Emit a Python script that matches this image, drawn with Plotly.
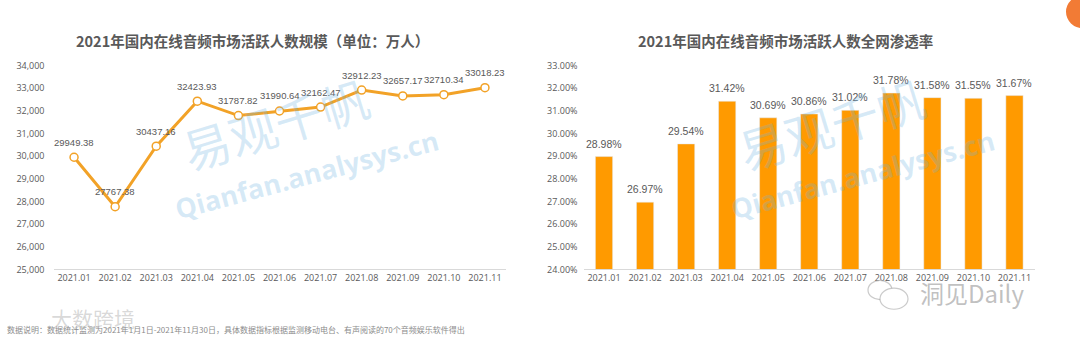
import plotly.graph_objects as go

months = ["2021.01", "2021.02", "2021.03", "2021.04", "2021.05", "2021.06",
          "2021.07", "2021.08", "2021.09", "2021.10", "2021.11"]
active_users = [29949.38, 27767.38, 30437.16, 32423.93, 31787.82, 31990.64,
                32162.47, 32912.23, 32657.17, 32710.34, 33018.23]
penetration = [28.98, 26.97, 29.54, 31.42, 30.69, 30.86,
               31.02, 31.78, 31.58, 31.55, 31.67]

title_left = "2021年国内在线音频市场活跃人数规模（单位：万人）"
title_right = "2021年国内在线音频市场活跃人数全网渗透率"
footnote = "数据说明：数据统计监测为2021年1月1日-2021年11月30日，具体数据指标根据监测移动电台、有声阅读的70个音频娱乐软件得出"

W, H = 1080, 347
LINE_C = "#F2A227"
BAR_C = "#FF9A00"
TXT = "#595959"
NUM_FONT = "Open Sans, Noto Sans CJK SC, sans-serif"
LBL_FONT = "Liberation Sans, Arial, sans-serif"
CJK_FONT = "Noto Sans CJK SC, sans-serif"

ydom = [1 - 272.7 / H, 1 - 60.7 / H]

fig = go.Figure()

fig.add_trace(go.Scatter(
    x=months, y=active_users, mode="lines+markers",
    line=dict(color=LINE_C, width=3),
    marker=dict(size=8, color="white", line=dict(color=LINE_C, width=1.5)),
    xaxis="x", yaxis="y", showlegend=False, hoverinfo="x+y"))

fig.add_trace(go.Bar(
    x=months, y=penetration, marker_color=BAR_C, width=0.42,
    xaxis="x2", yaxis="y2", showlegend=False))

annotations = []
# category positions given by index so numeric-looking labels are not parsed as numbers
for i, v in enumerate(active_users):
    annotations.append(dict(x=i, y=v, xref="x", yref="y", text=f"{v:.2f}",
                            xanchor="center", showarrow=False, yshift=15,
                            font=dict(size=9.5, color=TXT, family=LBL_FONT)))
for i, v in enumerate(penetration):
    annotations.append(dict(x=i, y=v, xref="x2", yref="y2", text=f"{v:.2f}%",
                            xanchor="center", showarrow=False, yshift=13,
                            font=dict(size=10.5, color=TXT, family=LBL_FONT)))

# titles
annotations.append(dict(x=252 / W, y=1 - 35 / H, xref="paper", yref="paper",
                        xanchor="center", yanchor="middle",
                        text=f"<b>{title_left}</b>", showarrow=False,
                        font=dict(size=14.5, color=TXT, family=CJK_FONT)))
annotations.append(dict(x=785 / W, y=1 - 35 / H, xref="paper", yref="paper",
                        xanchor="center", yanchor="middle",
                        text=f"<b>{title_right}</b>", showarrow=False,
                        font=dict(size=14.5, color=TXT, family=CJK_FONT)))
# footnote
annotations.append(dict(x=5 / W, y=1 - 335 / H, xref="paper", yref="paper",
                        xanchor="left", yanchor="middle", text=footnote, showarrow=False,
                        font=dict(size=8, color="#8C8C8C", family=CJK_FONT)))

# watermarks
WM = "rgba(110,180,225,0.28)"
for dx in (0, 556):
    annotations.append(dict(x=(275 + dx) / W, y=1 - 120 / H, xref="paper", yref="paper",
                            xanchor="center", yanchor="middle",
                            text="易观千帆", showarrow=False, textangle=-17,
                            font=dict(size=48, color=WM, family=CJK_FONT)))
    annotations.append(dict(x=(306 + dx) / W, y=1 - 174 / H, xref="paper", yref="paper",
                            xanchor="center", yanchor="middle",
                            text="<b>Qianfan.analysys.cn</b>", showarrow=False, textangle=-15,
                            font=dict(size=27, color=WM, family="Open Sans, sans-serif")))
annotations.append(dict(x=93 / W, y=1 - 323 / H, xref="paper", yref="paper",
                        xanchor="center", yanchor="middle",
                        text="大数跨境", showarrow=False,
                        font=dict(size=21, color="rgba(170,170,170,0.45)", family=CJK_FONT)))
annotations.append(dict(x=972 / W, y=1 - 297 / H, xref="paper", yref="paper",
                        xanchor="center", yanchor="middle",
                        text="洞见Daily", showarrow=False,
                        font=dict(size=24, color="rgba(140,140,140,0.55)", family=CJK_FONT)))

axis_common = dict(showgrid=False, zeroline=False, ticks="",
                   tickfont=dict(size=9, color=TXT, family=NUM_FONT))

wm_line = dict(color="rgba(150,150,150,0.5)", width=1.2)
fig.update_layout(
    width=W, height=H, margin=dict(l=0, r=0, t=0, b=0),
    paper_bgcolor="white", plot_bgcolor="white",
    xaxis=dict(domain=[53.5 / W, 505.5 / W], anchor="y", type="category",
               range=[-0.5, 10.5],
               showline=True, linecolor="#D9D9D9", linewidth=1, **axis_common),
    yaxis=dict(domain=ydom, anchor="x", range=[25000, 34000], dtick=1000,
               tickformat=",d", showline=False, ticklabelstandoff=8, **axis_common),
    xaxis2=dict(domain=[583.5 / W, 1035 / W], anchor="y2", type="category",
                range=[-0.5, 10.5],
                showline=True, linecolor="#D9D9D9", linewidth=1, **axis_common),
    yaxis2=dict(domain=ydom, anchor="x2", range=[24, 33], dtick=1,
                tickformat=".2f", ticksuffix="%", showline=False, ticklabelstandoff=5,
                **axis_common),
    annotations=annotations,
    shapes=[
        dict(type="circle", xref="paper", yref="paper",
             x0=1066 / W, x1=1100 / W, y0=1 - 22 / H, y1=1 + 12 / H,
             fillcolor="#F27B35", line=dict(width=0)),
        dict(type="circle", xref="paper", yref="paper",
             x0=868 / W, x1=892 / W, y0=1 - 304 / H, y1=1 - 284 / H,
             fillcolor="white", line=wm_line),
        dict(type="circle", xref="paper", yref="paper",
             x0=880 / W, x1=908 / W, y0=1 - 314 / H, y1=1 - 292 / H,
             fillcolor="white", line=wm_line),
    ],
)

fig.write_html("out.html")
